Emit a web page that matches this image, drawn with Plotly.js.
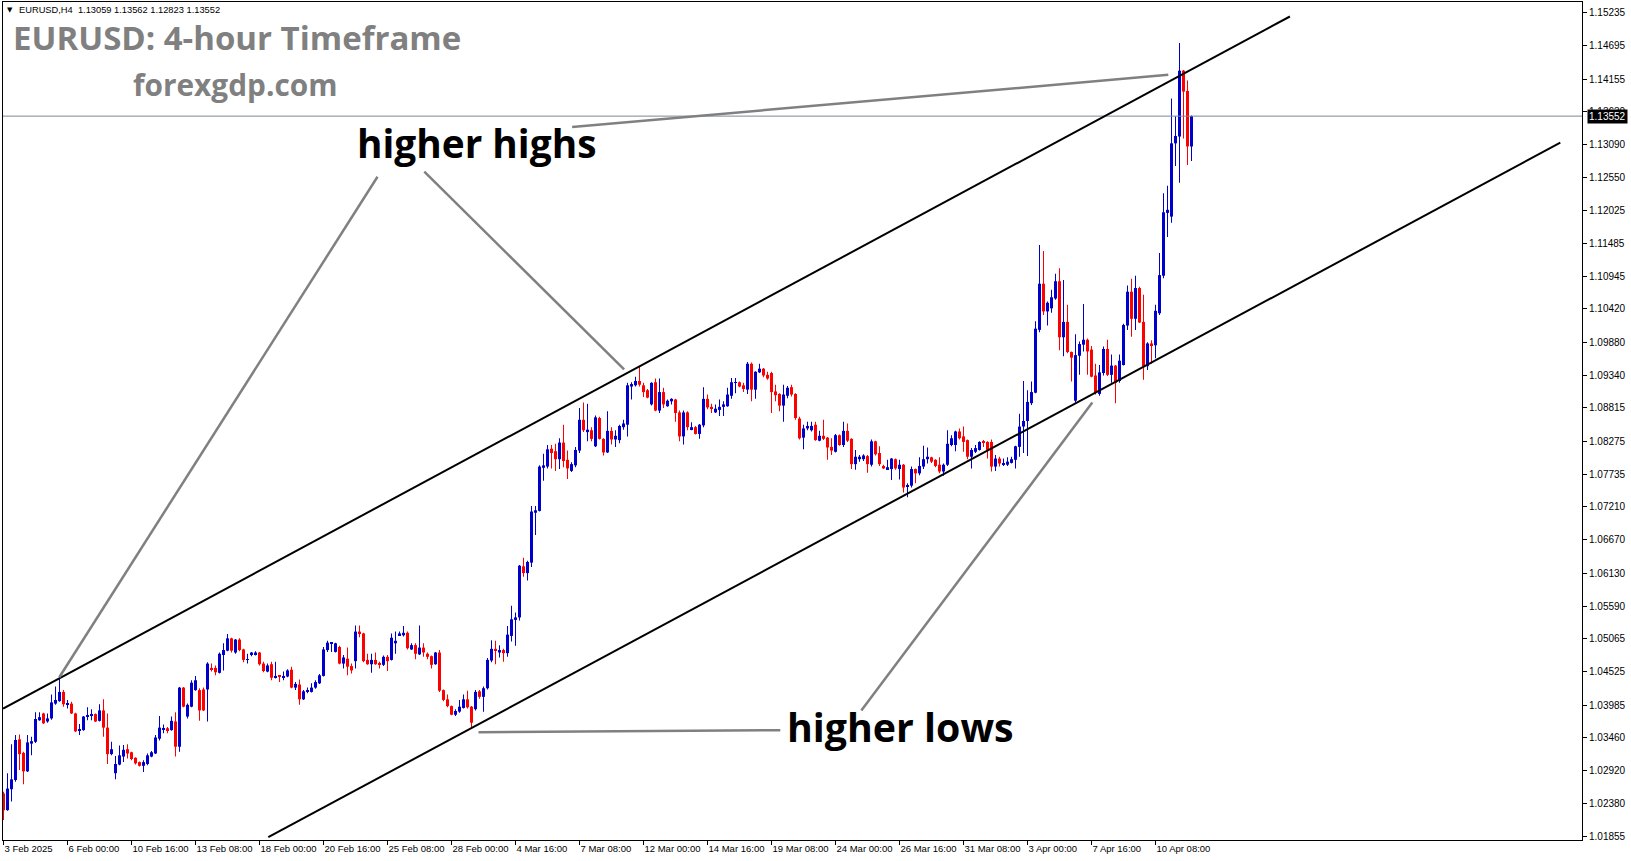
<!DOCTYPE html>
<html><head><meta charset="utf-8">
<script src="https://cdn.plot.ly/plotly-3.0.1.min.js"></script>
<style>html,body{margin:0;padding:0;background:#fff;overflow:hidden}#chart{width:1631px;height:861px}</style>
</head><body><div id="chart"></div>
<script>
// ---- EURUSD H4 candles (bar index 0 = first visible bar, 3 Feb 2025) ----
const opens = [
1.0255,1.0228,1.0262,1.0277,1.0343,1.0321,1.0291,1.0336,1.0339,1.0374,
1.0385,1.0372,1.0377,1.0401,1.0405,1.0420,1.0400,1.0401,1.0385,1.0357,
1.0358,1.0380,1.0381,1.0384,1.0373,1.0390,1.0362,1.0319,1.0288,1.0302,
1.0315,1.0327,1.0322,1.0313,1.0306,1.0300,1.0303,1.0315,1.0320,1.0344,
1.0359,1.0361,1.0358,1.0372,1.0331,1.0427,1.0380,1.0396,1.0423,1.0423,
1.0424,1.0424,1.0459,1.0459,1.0451,1.0480,1.0487,1.0507,1.0484,1.0505,
1.0489,1.0472,1.0480,1.0481,1.0484,1.0466,1.0453,1.0465,1.0443,1.0446,
1.0444,1.0445,1.0456,1.0427,1.0432,1.0408,1.0420,1.0420,1.0427,1.0434,
1.0446,1.0488,1.0498,1.0485,1.0493,1.0466,1.0474,1.0462,1.0470,1.0518,
1.0515,1.0472,1.0465,1.0472,1.0467,1.0464,1.0477,1.0472,1.0499,1.0512,
1.0512,1.0516,1.0489,1.0496,1.0481,1.0492,1.0482,1.0478,1.0465,1.0484,
1.0423,1.0408,1.0397,1.0383,1.0388,1.0394,1.0408,1.0396,1.0392,1.0421,
1.0412,1.0426,1.0471,1.0490,1.0484,1.0488,1.0483,1.0511,1.0537,1.0541,
1.0624,1.0613,1.0630,1.0711,1.0714,1.0784,1.0786,1.0815,1.0811,1.0798,
1.0825,1.0797,1.0779,1.0788,1.0812,1.0862,1.0842,1.0845,1.0819,1.0865,
1.0831,1.0809,1.0844,1.0830,1.0829,1.0850,1.0854,1.0916,1.0918,1.0925,
1.0918,1.0910,1.0887,1.0923,1.0877,1.0907,1.0884,1.0892,1.0895,1.0874,
1.0835,1.0874,1.0847,1.0850,1.0839,1.0853,1.0896,1.0883,1.0874,1.0878,
1.0883,1.0884,1.0901,1.0922,1.0923,1.0918,1.0911,1.0953,1.0911,1.0939,
1.0945,1.0935,1.0938,1.0908,1.0904,1.0885,1.0901,1.0915,1.0904,1.0864,
1.0833,1.0848,1.0845,1.0854,1.0828,1.0836,1.0833,1.0818,1.0810,1.0837,
1.0821,1.0844,1.0831,1.0790,1.0798,1.0798,1.0803,1.0789,1.0827,1.0808,
1.0787,1.0782,1.0782,1.0798,1.0782,1.0789,1.0753,1.0755,1.0782,1.0775,
1.0786,1.0798,1.0801,1.0797,1.0789,1.0778,1.0789,1.0821,1.0821,1.0843,
1.0835,1.0829,1.0802,1.0810,1.0813,1.0826,1.0826,1.0826,1.0786,1.0799,
1.0790,1.0789,1.0792,1.0797,1.0818,1.0851,1.0860,1.0889,1.0906,1.1008,
1.1083,1.1038,1.1043,1.1059,1.1087,1.0996,1.1021,1.0972,1.0893,1.0966,
1.0984,1.0992,1.0976,1.0934,1.0904,1.0938,1.0977,1.0935,1.0950,1.0925,
1.0951,1.1015,1.1070,1.1026,1.1076,1.1021,1.0949,1.0986,1.0983,1.1035,
1.1096,1.1198,1.1192,1.1311,1.1322,1.1429,1.1396,1.13059];
const highs = [
1.0258,1.0288,1.0335,1.0350,1.0351,1.0323,1.0350,1.0347,1.0387,1.0387,
1.0386,1.0385,1.0416,1.0429,1.0443,1.0423,1.0407,1.0404,1.0386,1.0368,
1.0381,1.0395,1.0392,1.0385,1.0400,1.0408,1.0385,1.0339,1.0316,1.0333,
1.0334,1.0335,1.0323,1.0314,1.0307,1.0309,1.0320,1.0324,1.0350,1.0381,
1.0367,1.0363,1.0380,1.0387,1.0428,1.0428,1.0401,1.0439,1.0446,1.0426,
1.0427,1.0468,1.0466,1.0463,1.0484,1.0499,1.0514,1.0508,1.0506,1.0507,
1.0490,1.0482,1.0485,1.0486,1.0485,1.0469,1.0466,1.0469,1.0469,1.0447,
1.0453,1.0457,1.0461,1.0436,1.0440,1.0423,1.0427,1.0434,1.0439,1.0449,
1.0493,1.0503,1.0501,1.0500,1.0495,1.0480,1.0492,1.0466,1.0528,1.0528,
1.0516,1.0482,1.0482,1.0484,1.0469,1.0479,1.0480,1.0515,1.0518,1.0518,
1.0527,1.0518,1.0499,1.0499,1.0528,1.0499,1.0484,1.0479,1.0485,1.0488,
1.0424,1.0416,1.0398,1.0392,1.0407,1.0416,1.0422,1.0397,1.0423,1.0423,
1.0429,1.0475,1.0504,1.0503,1.0496,1.0490,1.0527,1.0560,1.0549,1.0626,
1.0638,1.0633,1.0722,1.0722,1.0788,1.0807,1.0821,1.0821,1.0823,1.0832,
1.0854,1.0812,1.0793,1.0818,1.0881,1.0890,1.0888,1.0850,1.0869,1.0867,
1.0832,1.0876,1.0850,1.0845,1.0854,1.0862,1.0922,1.0923,1.0932,1.0948,
1.0922,1.0912,1.0923,1.0929,1.0929,1.0914,1.0895,1.0897,1.0896,1.0877,
1.0877,1.0876,1.0858,1.0852,1.0855,1.0915,1.0903,1.0888,1.0887,1.0895,
1.0892,1.0914,1.0930,1.0930,1.0924,1.0922,1.0956,1.0955,1.0941,1.0953,
1.0946,1.0940,1.0940,1.0919,1.0905,1.0919,1.0917,1.0919,1.0905,1.0867,
1.0854,1.0859,1.0859,1.0859,1.0844,1.0862,1.0834,1.0832,1.0839,1.0838,
1.0859,1.0856,1.0832,1.0813,1.0805,1.0806,1.0805,1.0830,1.0828,1.0819,
1.0789,1.0797,1.0800,1.0799,1.0797,1.0790,1.0759,1.0786,1.0783,1.0801,
1.0820,1.0817,1.0802,1.0798,1.0801,1.0791,1.0845,1.0837,1.0844,1.0848,
1.0851,1.0830,1.0816,1.0821,1.0827,1.0829,1.0827,1.0830,1.0805,1.0802,
1.0799,1.0801,1.0802,1.0820,1.0872,1.0925,1.0910,1.0924,1.1022,1.1146,
1.1136,1.1054,1.1073,1.1099,1.1108,1.1089,1.1049,1.0973,1.1001,1.0989,
1.1050,1.0994,1.0982,1.0953,1.0951,1.0981,1.0992,1.0968,1.0951,1.0968,
1.1018,1.1080,1.1091,1.1096,1.1078,1.1065,1.0988,1.0991,1.1049,1.1133,
1.1230,1.1242,1.1384,1.1355,1.1474,1.1430,1.1413,1.13562];
const lows = [
1.0212,1.0227,1.0242,1.0274,1.0293,1.0270,1.0290,1.0317,1.0337,1.0373,
1.0368,1.0370,1.0375,1.0399,1.0404,1.0396,1.0393,1.0384,1.0355,1.0350,
1.0357,1.0374,1.0374,1.0371,1.0372,1.0347,1.0303,1.0317,1.0278,1.0301,
1.0306,1.0312,1.0309,1.0302,1.0299,1.0290,1.0301,1.0314,1.0319,1.0341,
1.0353,1.0353,1.0357,1.0315,1.0323,1.0395,1.0377,1.0395,1.0422,1.0373,
1.0389,1.0372,1.0453,1.0447,1.0450,1.0455,1.0486,1.0484,1.0482,1.0486,
1.0468,1.0466,1.0478,1.0479,1.0463,1.0452,1.0452,1.0439,1.0442,1.0436,
1.0439,1.0444,1.0426,1.0423,1.0399,1.0407,1.0418,1.0419,1.0425,1.0433,
1.0445,1.0485,1.0485,1.0484,1.0465,1.0458,1.0447,1.0450,1.0458,1.0509,
1.0468,1.0464,1.0451,1.0464,1.0458,1.0462,1.0454,1.0471,1.0482,1.0511,
1.0510,1.0489,1.0488,1.0473,1.0480,1.0477,1.0473,1.0458,1.0464,1.0420,
1.0405,1.0395,1.0382,1.0381,1.0386,1.0393,1.0393,1.0361,1.0390,1.0409,
1.0388,1.0424,1.0468,1.0465,1.0476,1.0469,1.0477,1.0502,1.0495,1.0536,
1.0607,1.0601,1.0623,1.0675,1.0713,1.0763,1.0783,1.0783,1.0779,1.0782,
1.0785,1.0766,1.0777,1.0785,1.0808,1.0842,1.0827,1.0827,1.0818,1.0830,
1.0804,1.0808,1.0822,1.0818,1.0824,1.0846,1.0835,1.0895,1.0916,1.0916,
1.0899,1.0897,1.0885,1.0876,1.0873,1.0881,1.0883,1.0887,1.0859,1.0827,
1.0822,1.0845,1.0845,1.0838,1.0831,1.0850,1.0879,1.0873,1.0873,1.0868,
1.0868,1.0883,1.0896,1.0905,1.0915,1.0907,1.0904,1.0892,1.0896,1.0938,
1.0931,1.0927,1.0873,1.0892,1.0876,1.0859,1.0897,1.0900,1.0862,1.0830,
1.0814,1.0845,1.0843,1.0828,1.0827,1.0829,1.0797,1.0805,1.0809,1.0820,
1.0818,1.0826,1.0782,1.0781,1.0794,1.0795,1.0776,1.0786,1.0804,1.0787,
1.0782,1.0781,1.0764,1.0781,1.0765,1.0744,1.0736,1.0752,1.0759,1.0772,
1.0782,1.0791,1.0792,1.0785,1.0775,1.0771,1.0787,1.0819,1.0811,1.0830,
1.0810,1.0798,1.0783,1.0808,1.0812,1.0818,1.0799,1.0778,1.0779,1.0786,
1.0787,1.0787,1.0791,1.0783,1.0802,1.0808,1.0803,1.0886,1.0905,1.1004,
1.1032,1.1015,1.1036,1.1057,1.0975,1.0965,1.0970,1.0924,1.0890,1.0935,
1.0973,1.0935,1.0931,1.0903,1.0901,1.0934,1.0933,1.0922,1.0889,1.0922,
1.0950,1.1008,1.0997,1.1008,1.1019,1.0927,1.0943,1.0953,1.0962,1.1032,
1.1092,1.1159,1.1182,1.1274,1.1247,1.1319,1.1276,1.12823];
const closes = [
1.0228,1.0263,1.0278,1.0342,1.0319,1.0291,1.0338,1.0340,1.0376,1.0379,
1.0369,1.0377,1.0403,1.0407,1.0420,1.0400,1.0402,1.0385,1.0356,1.0359,
1.0380,1.0382,1.0383,1.0372,1.0390,1.0362,1.0319,1.0327,1.0303,1.0317,
1.0326,1.0320,1.0311,1.0304,1.0300,1.0306,1.0317,1.0322,1.0346,1.0362,
1.0361,1.0358,1.0373,1.0331,1.0427,1.0396,1.0399,1.0435,1.0439,1.0390,
1.0390,1.0466,1.0457,1.0452,1.0482,1.0488,1.0507,1.0487,1.0505,1.0488,
1.0472,1.0473,1.0484,1.0484,1.0465,1.0454,1.0463,1.0443,1.0446,1.0445,
1.0446,1.0455,1.0427,1.0433,1.0408,1.0421,1.0423,1.0427,1.0436,1.0447,
1.0489,1.0500,1.0500,1.0499,1.0466,1.0476,1.0461,1.0455,1.0518,1.0515,
1.0470,1.0465,1.0472,1.0465,1.0465,1.0477,1.0470,1.0508,1.0503,1.0515,
1.0516,1.0491,1.0496,1.0482,1.0492,1.0484,1.0477,1.0464,1.0484,1.0422,
1.0407,1.0397,1.0383,1.0389,1.0396,1.0408,1.0395,1.0370,1.0420,1.0412,
1.0426,1.0472,1.0490,1.0487,1.0488,1.0483,1.0513,1.0538,1.0541,1.0625,
1.0613,1.0631,1.0713,1.0715,1.0786,1.0788,1.0814,1.0808,1.0798,1.0825,
1.0795,1.0783,1.0790,1.0813,1.0862,1.0845,1.0846,1.0831,1.0866,1.0831,
1.0809,1.0844,1.0830,1.0836,1.0852,1.0856,1.0918,1.0920,1.0925,1.0919,
1.0907,1.0898,1.0922,1.0877,1.0907,1.0887,1.0893,1.0896,1.0873,1.0835,
1.0874,1.0850,1.0850,1.0839,1.0854,1.0896,1.0882,1.0880,1.0880,1.0883,
1.0887,1.0903,1.0923,1.0923,1.0916,1.0912,1.0953,1.0911,1.0940,1.0945,
1.0934,1.0929,1.0907,1.0902,1.0885,1.0903,1.0914,1.0903,1.0865,1.0832,
1.0848,1.0852,1.0852,1.0829,1.0836,1.0831,1.0817,1.0812,1.0837,1.0821,
1.0844,1.0828,1.0790,1.0802,1.0802,1.0804,1.0790,1.0827,1.0806,1.0790,
1.0783,1.0785,1.0799,1.0783,1.0789,1.0752,1.0756,1.0782,1.0775,1.0787,
1.0798,1.0802,1.0794,1.0787,1.0778,1.0789,1.0823,1.0832,1.0843,1.0832,
1.0826,1.0802,1.0813,1.0816,1.0826,1.0825,1.0813,1.0786,1.0799,1.0791,
1.0791,1.0794,1.0798,1.0819,1.0851,1.0860,1.0891,1.0907,1.1010,1.1083,
1.1038,1.1052,1.1061,1.1087,1.0996,1.1021,1.0972,1.0963,1.0967,1.0985,
1.0992,1.0973,1.0932,1.0907,1.0939,1.0977,1.0935,1.0950,1.0922,1.0958,
1.1016,1.1070,1.1026,1.1076,1.1020,1.0949,1.0986,1.0983,1.1039,1.1097,
1.1199,1.1203,1.1311,1.1323,1.1429,1.1395,1.1306,1.13552];

// time-axis labels, one every 16 bars
const timeLabels = ['3 Feb 2025','6 Feb 00:00','10 Feb 16:00','13 Feb 08:00','18 Feb 00:00',
  '20 Feb 16:00','25 Feb 08:00','28 Feb 00:00','4 Mar 16:00','7 Mar 08:00','12 Mar 00:00',
  '14 Mar 16:00','19 Mar 08:00','24 Mar 00:00','26 Mar 16:00','31 Mar 08:00','3 Apr 00:00',
  '7 Apr 16:00','10 Apr 08:00'];
const barsPerLabel = 16;
// price-axis labels
const priceLabels = [1.15235,1.14695,1.14155,1.13630,1.13090,1.12550,1.12025,1.11485,1.10945,
  1.10420,1.09880,1.09340,1.08815,1.08275,1.07735,1.07210,1.06670,1.06130,1.05590,1.05065,
  1.04525,1.03985,1.03460,1.02920,1.02380,1.01855];
const lastPrice = 1.13552;
const symbolHeader = 'EURUSD,H4\u00a0\u00a01.13059 1.13562 1.12823 1.13552';

// channel trend lines: [bar index, price] end points
const upperChannel = [[-0.1, 1.0393], [321.6, 1.1517]];
const lowerChannel = [[66.2, 1.0184], [389.2, 1.1312]];
// grey pointer lines: [bar index, price] end points
const pointers = [
  [[93.5, 1.12567], [13.95, 1.04439]],
  [[105.2, 1.12651], [155.15, 1.09440]],
  [[142.15, 1.13377], [291.2, 1.14222]],
  [[214.45, 1.03898], [272.2, 1.08899]],
  [[118.75, 1.03544], [194.2, 1.03578]]
];

// ---- layout geometry ----
const M = {l:3, r:49, t:2, b:21};
const FW = 1631, FH = 861;
const PW = FW - M.l - M.r, PH = FH - M.t - M.b;
const pxPerBar = 4, pxPerPrice = 6157;
const x0 = -0.125, x1 = x0 + PW / pxPerBar;
const yTop = priceLabels[0] + (12.5 - M.t) / pxPerPrice;
const yBot = yTop - PH / pxPerPrice;
const paperX = px => (px - M.l) / PW;
const paperY = py => 1 - (py - M.t) / PH;

const BLUE = '#0000CC', RED = '#FF0000';
const idx = opens.map((_, i) => i);
const cols = closes.map((c, i) => c >= opens[i] ? BLUE : RED);

const wicks = {
  type: 'bar', x: idx, base: lows, y: highs.map((h, i) => h - lows[i]),
  width: 0.25, marker: {color: cols, line: {width: 0}}, hoverinfo: 'skip'
};
const bodies = {
  type: 'bar', x: idx, base: opens.map((o, i) => Math.min(o, closes[i])),
  y: opens.map((o, i) => Math.abs(closes[i] - o)),
  width: 0.75, marker: {color: cols, line: {width: 0}}, hoverinfo: 'skip'
};

const lineShape = (pts, color, width) => ({
  type: 'line', xref: 'x', yref: 'y', x0: pts[0][0], y0: pts[0][1], x1: pts[1][0], y1: pts[1][1],
  line: {color: color, width: width}
});

const shapes = [
  {type: 'line', xref: 'paper', yref: 'y', x0: 0, x1: 1, y0: lastPrice, y1: lastPrice,
   line: {color: '#778899', width: 1}},
  lineShape(upperChannel, '#000000', 2),
  lineShape(lowerChannel, '#000000', 2)
].concat(pointers.map(p => lineShape(p, '#808080', 2.5)));

const bold = (txt, x, y, size, color) => ({
  text: txt, xref: 'paper', yref: 'paper', x: paperX(x), y: paperY(y),
  xanchor: 'left', yanchor: 'middle', showarrow: false,
  font: {family: 'Open Sans', size: size, color: color, weight: 700}
});

const annotations = [
  {text: '\u25BC', xref: 'paper', yref: 'paper', x: paperX(9.5), y: paperY(10), xanchor: 'center', yanchor: 'middle',
   showarrow: false, font: {family: 'DejaVu Sans', size: 7, color: '#000'}},
  {text: symbolHeader, xref: 'paper', yref: 'paper', x: paperX(17), y: paperY(10), xanchor: 'left', yanchor: 'middle',
   showarrow: false, font: {family: 'Liberation Sans', size: 9.3, color: '#000'}},
  bold('EURUSD: 4-hour Timeframe', 11, 37, 33, '#808080'),
  bold('forexgdp.com', 131, 84, 29.8, '#808080'),
  bold('higher highs', 355, 143, 38.8, '#000000'),
  bold('higher lows', 785, 727, 39.3, '#000000'),
  {text: lastPrice.toFixed(5), xref: 'paper', yref: 'y', x: 1, y: lastPrice, xanchor: 'left', yanchor: 'middle',
   xshift: 5, showarrow: false, bgcolor: '#000000', borderpad: 1,
   font: {family: 'Liberation Sans', size: 10, color: '#FFFFFF'}}
];

const layout = {
  width: FW, height: FH, margin: Object.assign({pad: 0}, M),
  paper_bgcolor: '#FFFFFF', plot_bgcolor: '#FFFFFF',
  showlegend: false, barmode: 'overlay', dragmode: false, hovermode: false,
  xaxis: {
    type: 'linear', range: [x0, x1], fixedrange: true,
    showgrid: false, zeroline: false, showline: true, mirror: true, linecolor: '#000', linewidth: 1,
    tickmode: 'array', tickvals: timeLabels.map((_, k) => k * barsPerLabel), ticktext: timeLabels,
    ticks: 'outside', ticklen: 4, tickcolor: '#000', tickwidth: 1, tickangle: 0,
    ticklabelposition: 'outside right', automargin: false,
    tickfont: {family: 'Liberation Sans', size: 9.5, color: '#000'}
  },
  yaxis: {
    type: 'linear', side: 'right', range: [yBot, yTop], fixedrange: true,
    showgrid: false, zeroline: false, showline: true, mirror: true, linecolor: '#000', linewidth: 1,
    tickmode: 'array', tickvals: priceLabels, ticktext: priceLabels.map(v => v.toFixed(5)),
    ticks: 'outside', ticklen: 4, tickcolor: '#000', tickwidth: 1, automargin: false,
    tickfont: {family: 'Liberation Sans', size: 10, color: '#000'}
  },
  shapes: shapes,
  annotations: annotations
};

Plotly.newPlot('chart', [wicks, bodies], layout, {displayModeBar: false, responsive: false});
</script>
</body></html>
